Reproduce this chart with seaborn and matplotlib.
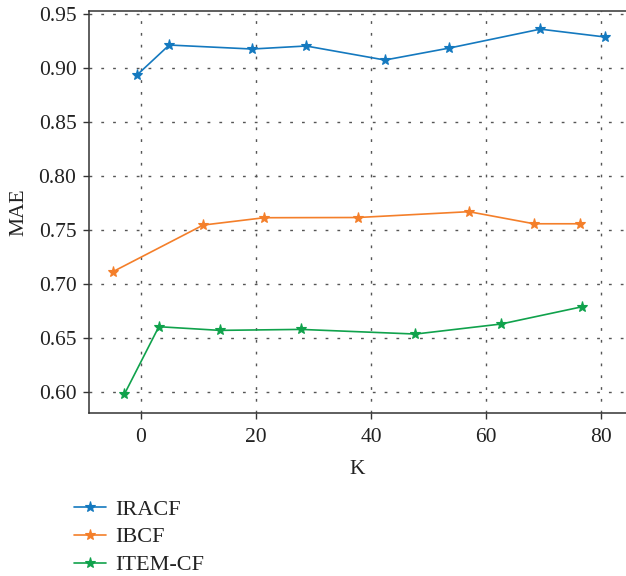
import numpy as np
import pandas as pd
import matplotlib
matplotlib.use("Agg")
import matplotlib.pyplot as plt
import seaborn as sns

methods = ["IRACF", "IBCF", "ITEM-CF"]
colors = ["#1479bf", "#f47f2a", "#10a24c"]

iracf_k = [-0.7, 4.9, 19.3, 28.7, 42.4, 53.6, 69.4, 80.7]
iracf_mae = [0.8935, 0.9213, 0.9176, 0.9204, 0.9074, 0.9185, 0.9360, 0.9287]

ibcf_k = [-4.9, 10.8, 21.4, 37.7, 57.0, 68.3, 76.3]
ibcf_mae = [0.7114, 0.7546, 0.7614, 0.7616, 0.7670, 0.7558, 0.7558]

item_k = [-2.9, 3.1, 13.7, 27.8, 47.7, 62.6, 76.7]
item_mae = [0.5979, 0.6605, 0.6571, 0.6580, 0.6537, 0.6630, 0.6790]

df = pd.concat([
    pd.DataFrame({"K": iracf_k, "MAE": iracf_mae, "method": "IRACF"}),
    pd.DataFrame({"K": ibcf_k, "MAE": ibcf_mae, "method": "IBCF"}),
    pd.DataFrame({"K": item_k, "MAE": item_mae, "method": "ITEM-CF"}),
])

sns.set_style("white")
plt.rcParams["font.family"] = ["Liberation Serif", "DejaVu Serif"]

fig = plt.figure(figsize=(6.26, 5.76), dpi=100)
ax = fig.add_axes([89 / 626, 1 - 413 / 576, 537 / 626, 402 / 576])

for name, c in zip(methods, colors):
    sub = df[df["method"] == name]
    sns.lineplot(data=sub, x="K", y="MAE", ax=ax, color=c, marker="*",
                 markersize=8, markeredgecolor=c, markeredgewidth=0.8,
                 linewidth=1.2, label=name)

ax.set_xlim(-9.04, 84.3)
ax.set_ylim(0.5806, 0.9528)
ax.set_xticks([0, 20, 40, 60, 80])
ax.set_yticks([0.60, 0.65, 0.70, 0.75, 0.80, 0.85, 0.90, 0.95])
ax.set_yticklabels([f"{v:.2f}" for v in ax.get_yticks()])

ax.grid(True, color="#555555", linestyle=(0, (2, 6.5)), linewidth=1.0)
for side in ["left", "bottom", "top"]:
    ax.spines[side].set_color("#333333")
    ax.spines[side].set_linewidth(1.1)
ax.spines["right"].set_visible(False)

ax.tick_params(axis="both", direction="out", length=4, width=1, color="#333333",
               labelsize=15.5, labelcolor="#222222", left=True, bottom=True)
ax.tick_params(axis="y", pad=5)
ax.tick_params(axis="x", pad=7)
ax.set_xlabel("K", fontsize=15.5, color="#222222", labelpad=9)
ax.set_ylabel("MAE", fontsize=15.5, color="#222222", labelpad=7)

ax.legend_.remove()
handles, labels = ax.get_legend_handles_labels()
fig.legend(handles, labels, loc="upper left", bbox_to_anchor=(74 / 626, 1 - 499 / 576),
           frameon=False, fontsize=16, handlelength=1.45, handletextpad=0.4,
           labelspacing=0.33, borderpad=0, borderaxespad=0, labelcolor="#222222")

fig.savefig("out.png", dpi=100)
